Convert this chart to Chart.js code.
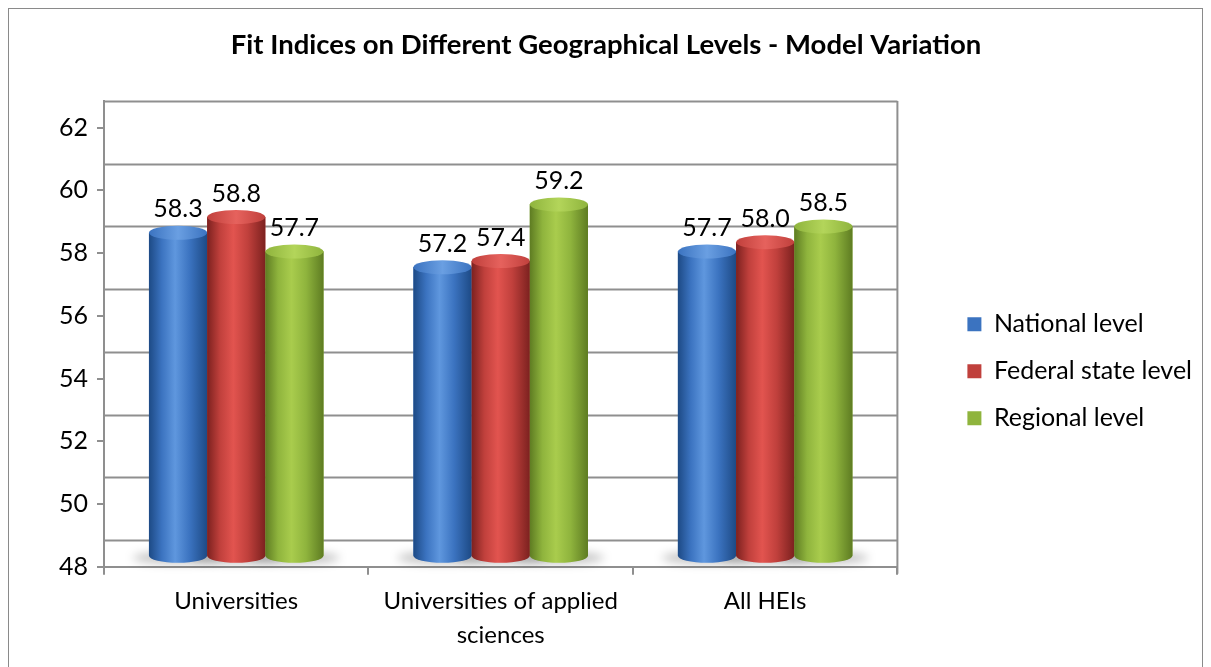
<!DOCTYPE html>
<html>
<head>
<meta charset="utf-8">
<script src="https://cdn.jsdelivr.net/npm/chart.js@4.4.1/dist/chart.umd.min.js"></script>
<style>
html, body { margin: 0; padding: 0; background: #fff; overflow: hidden; }
canvas { display: block; }
</style>
</head>
<body>
<canvas id="myChart" width="1211" height="667"></canvas>
<script>
// dados do grafico
const categories = ['Universities', ['Universities of applied', 'sciences'], 'All HEIs'];
const seriesNames = ['National level', 'Federal state level', 'Regional level'];
const nationalLevel = [58.3, 57.2, 57.7];
const federalStateLevel = [58.8, 57.4, 58.0];
const regionalLevel = [57.7, 59.2, 58.5];
const yTicks = [48, 50, 52, 54, 56, 58, 60, 62];
const chartTitle = 'Fit Indices on Different Geographical Levels - Model Variation';

// aparencia (estilo "3D" do Excel)
const fontFamily = 'Lato, "Liberation Sans", sans-serif';
const gridColor = '#8f8f8f';
const wallDepth = 0.85;   // parede do fundo, em unidades do eixo
const barDepth = 0.35;    // cilindros no meio da profundidade
const palette = [
    { base: '#3b73c0', dark: '#1d4a85', light: '#5f97de', cap: '#6a9fe2' },
    { base: '#c0403c', dark: '#7c211f', light: '#e2544f', cap: '#e6625d' },
    { base: '#8fb43d', dark: '#5e7c22', light: '#a9cc4d', cap: '#b3d55a' }
];

const framePlugin = {
    id: 'frame',
    beforeDraw(chart) {
        const c = chart.ctx;
        c.save();
        c.fillStyle = '#fff';
        c.fillRect(0, 0, chart.width, chart.height);
        c.strokeStyle = '#8a8a8a';
        c.lineWidth = 1;
        c.strokeRect(8.5, 8.5, chart.width - 17, chart.height + 20);
        c.restore();
    }
};

const wallPlugin = {
    id: 'wall',
    beforeDatasetsDraw(chart) {
        const c = chart.ctx;
        const y = chart.scales.y;
        const area = chart.chartArea;
        c.save();
        c.strokeStyle = gridColor;
        c.lineWidth = 2;
        yTicks.forEach(v => {
            const py = Math.round(y.getPixelForValue(v + wallDepth)) + 0.5;
            c.beginPath();
            c.moveTo(area.left, py);
            c.lineTo(area.right, py);
            c.stroke();
        });
        c.beginPath();
        c.moveTo(area.right, area.top);
        c.lineTo(area.right, area.bottom + 7);
        c.stroke();

        // sombras no chao
        c.filter = 'blur(5px)';
        c.fillStyle = 'rgba(0,0,0,0.24)';
        chart.data.datasets.forEach((ds, i) => {
            chart.getDatasetMeta(i).data.forEach(bar => {
                c.beginPath();
                c.ellipse(bar.x, bar.base + 2, bar.width * 0.78, 6, 0, 0, Math.PI * 2);
                c.fill();
            });
        });
        c.filter = 'none';
        c.restore();
    }
};

const cylinderPlugin = {
    id: 'cylinder',
    afterDatasetsDraw(chart) {
        const c = chart.ctx;
        chart.data.datasets.forEach((ds, i) => {
            const col = palette[i];
            chart.getDatasetMeta(i).data.forEach((bar, j) => {
                const w = bar.width;
                const left = bar.x - w / 2;
                const right = bar.x + w / 2;
                const ry = w * 0.12;
                const g = c.createLinearGradient(left, 0, right, 0);
                g.addColorStop(0, col.dark);
                g.addColorStop(0.22, col.base);
                g.addColorStop(0.45, col.light);
                g.addColorStop(0.7, col.base);
                g.addColorStop(1, col.dark);
                c.save();
                c.fillStyle = g;
                c.beginPath();
                c.moveTo(left, bar.y);
                c.lineTo(left, bar.base);
                c.ellipse(bar.x, bar.base, w / 2, ry, 0, Math.PI, 0, true);
                c.lineTo(right, bar.y);
                c.closePath();
                c.fill();

                const gc = c.createLinearGradient(left, 0, right, 0);
                gc.addColorStop(0, col.base);
                gc.addColorStop(0.5, col.cap);
                gc.addColorStop(1, col.base);
                c.fillStyle = gc;
                c.beginPath();
                c.ellipse(bar.x, bar.y, w / 2, ry, 0, 0, Math.PI * 2);
                c.fill();

                // rotulo do valor
                c.fillStyle = '#000';
                c.font = '25px ' + fontFamily;
                c.textAlign = 'center';
                c.textBaseline = 'bottom';
                c.fillText(ds.data[j].toFixed(1), bar.x, bar.y - ry - 4);
                c.restore();
            });
        });
    }
};

const ctx = document.getElementById('myChart').getContext('2d');
const seriesValues = [nationalLevel, federalStateLevel, regionalLevel];

const myChart = new Chart(ctx, {
    type: 'bar',
    data: {
        labels: categories,
        datasets: seriesNames.map((name, i) => ({
            label: name,
            data: seriesValues[i],
            yAxisID: 'yBar',
            base: yTicks[0],
            backgroundColor: palette[i].base,
            borderColor: palette[i].dark,
            borderWidth: 0,
            categoryPercentage: 0.66,
            barPercentage: 1.0
        }))
    },
    options: {
        responsive: false,
        animation: false,
        layout: { padding: { left: 10, right: 9, top: 0, bottom: 5 } },
        scales: {
            x: {
                grid: { offset: true, drawOnChartArea: false, tickLength: 8, color: gridColor, lineWidth: 2 },
                border: { color: gridColor, width: 2 },
                ticks: { color: '#000', padding: 10, font: { family: fontFamily, size: 24, lineHeight: 1.4 } }
            },
            y: {
                min: yTicks[0],
                max: yTicks[yTicks.length - 1] + wallDepth,
                afterBuildTicks: scale => { scale.ticks = yTicks.map(v => ({ value: v })); },
                afterFit: scale => { scale.width = 94; },
                grid: { drawOnChartArea: false, tickLength: 7, color: gridColor, lineWidth: 2 },
                border: { color: gridColor, width: 2 },
                ticks: { color: '#000', padding: 9, font: { family: fontFamily, size: 25 } }
            },
            yBar: {
                display: false,
                position: 'right',
                min: yTicks[0] - barDepth,
                max: yTicks[yTicks.length - 1] + wallDepth - barDepth,
                afterFit: scale => { scale.width = 48; }
            }
        },
        plugins: {
            title: {
                display: true,
                text: chartTitle,
                color: '#000',
                font: { family: fontFamily, size: 27.5, weight: 'bold' },
                padding: { top: 29, bottom: 39 }
            },
            legend: {
                position: 'right',
                title: { display: true, text: '', padding: { top: 0, bottom: 66 } },
                labels: {
                    color: '#000',
                    boxWidth: 14,
                    boxHeight: 14,
                    padding: 22,
                    font: { family: fontFamily, size: 25 }
                }
            },
            tooltip: { enabled: false }
        }
    },
    plugins: [framePlugin, wallPlugin, cylinderPlugin]
});
</script>
</body>
</html>
